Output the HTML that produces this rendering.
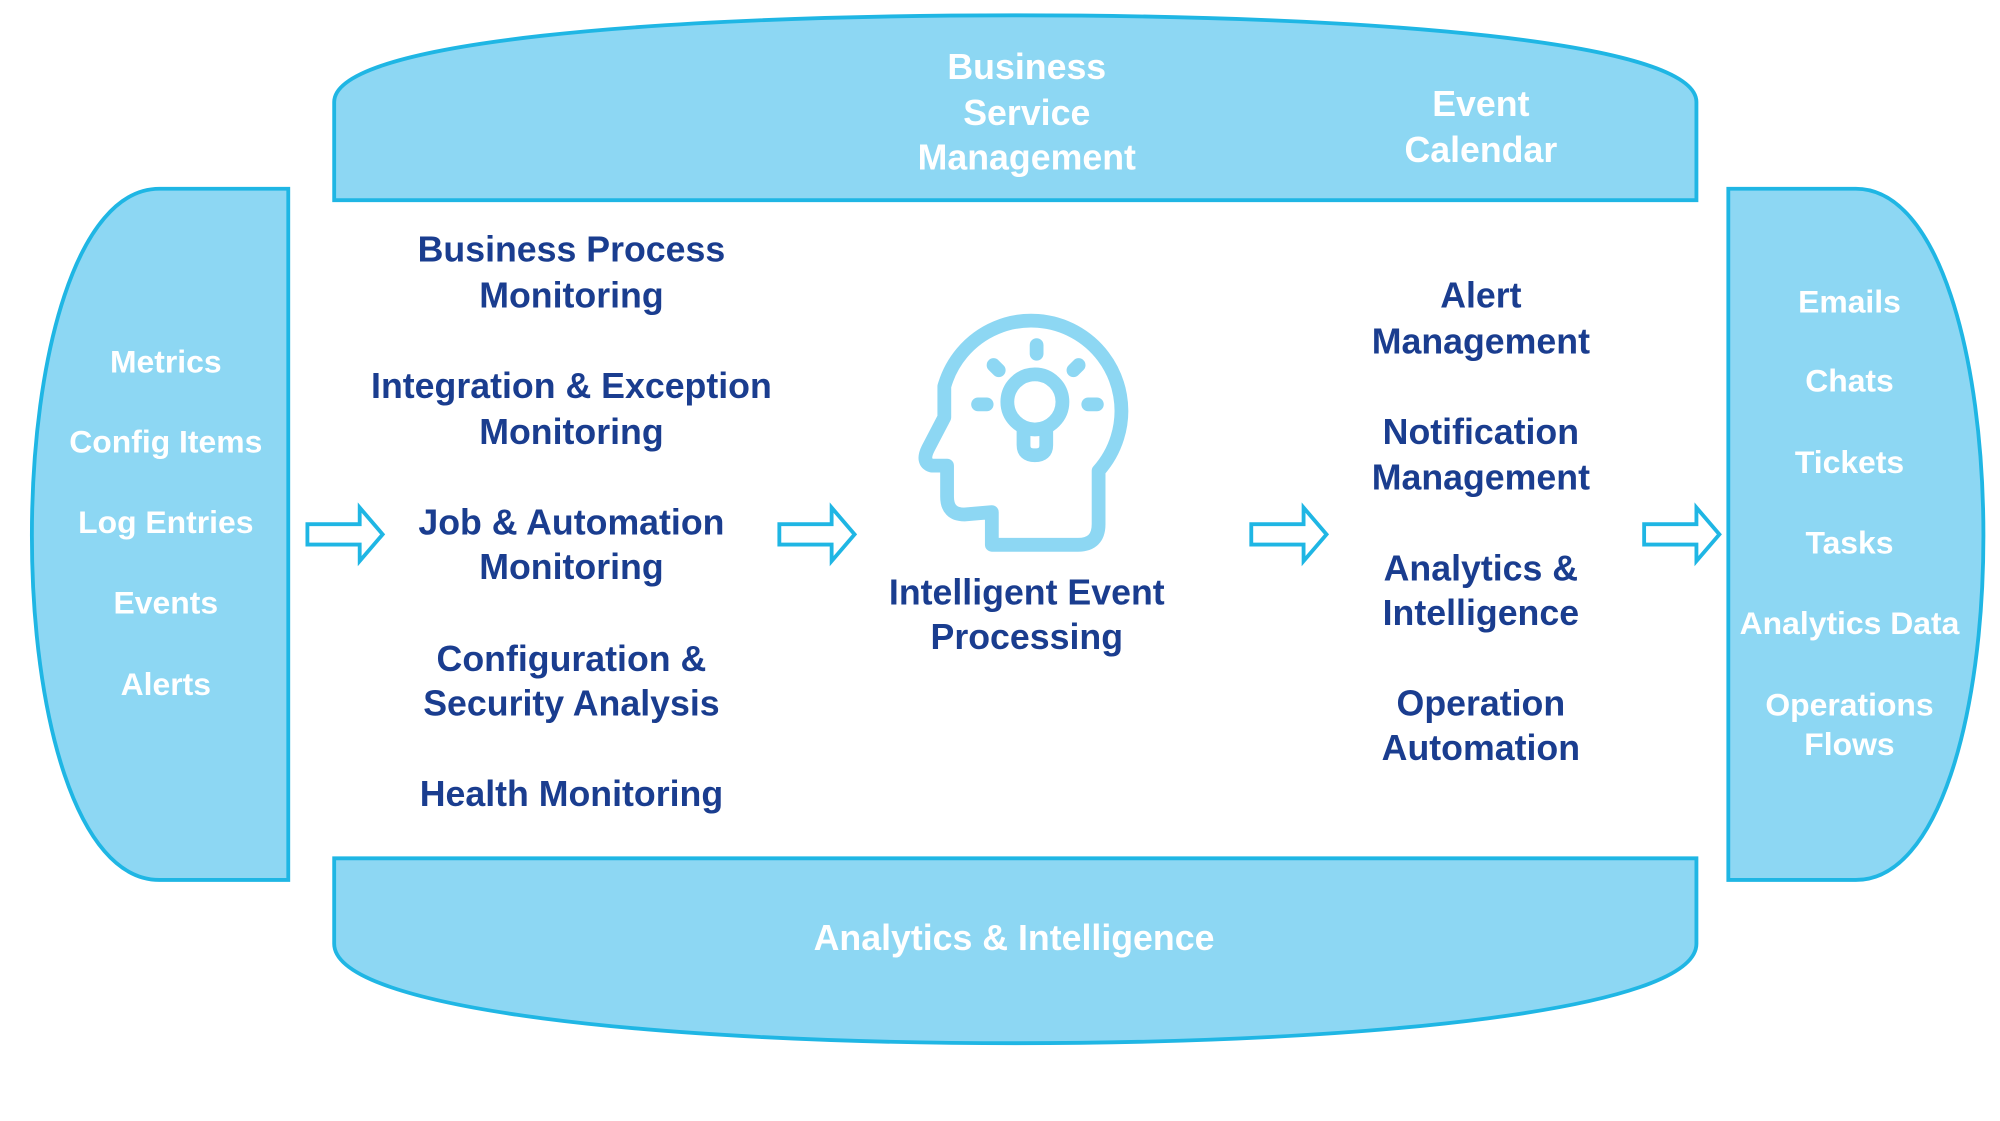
<!DOCTYPE html>
<html><head><meta charset="utf-8"><style>
html,body{margin:0;padding:0;background:#fff;}
svg{display:block;}
text{font-family:"Liberation Sans",sans-serif;font-weight:bold;text-anchor:middle;}
.w{fill:#fff;font-size:25px;}
.b{fill:#1a3d8f;font-size:28px;}
.t{fill:#fff;font-size:28px;}
</style></head><body>
<svg width="2000" height="1121" viewBox="0 0 1568 879" preserveAspectRatio="none" xmlns="http://www.w3.org/2000/svg">
<g fill="#8dd7f3" stroke="#1fb6e4" stroke-width="3">
<path d="M262,157 V80 C262,32 520,12 796,12 C1072,12 1330,32 1330,80 V157 Z"/>
<path d="M262,673 H1330 V740 C1330,792 1072,818 796,818 C520,818 262,792 262,740 Z"/>
<path d="M226,148 V690 H125 C60,690 25,560 25,420 C25,280 60,148 125,148 Z"/>
<path d="M1355,148 V690 H1455 C1520,690 1555,560 1555,420 C1555,280 1520,148 1455,148 Z"/>
</g>
<g fill="#fff" stroke="#1fb6e4" stroke-width="3" stroke-linejoin="miter">
<path d="M241,411 H282 V398 L300,419 L282,440 V427 H241 Z"/>
<path d="M611,411 H652 V398 L670,419 L652,440 V427 H611 Z"/>
<path d="M981,411 H1022 V398 L1040,419 L1022,440 V427 H981 Z"/>
<path d="M1289,411 H1330 V398 L1348,419 L1330,440 V427 H1289 Z"/>
</g>
<g transform="translate(702,222) scale(0.27)" fill="none" stroke="#8dd7f3" stroke-width="40" stroke-linecap="round" stroke-linejoin="round">
<path d="M590,545 V700 Q590,760 530,760 H280 V665 L200,672 Q150,672 150,620 V530 H105 Q75,520 95,480 L142,390 V300 A262,262 0 1 1 590,545 Z"/>
<circle cx="405" cy="345" r="80"/>
<path d="M372,420 V470 Q372,500 405,500 Q438,500 438,470 V420"/>
<path d="M410,180 V205 M285,238 L300,253 M532,238 L517,253 M240,352 H265 M560,352 H585"/>
</g>
<g class="w">
<text x="130" y="292">Metrics</text>
<text x="130" y="355">Config Items</text>
<text x="130" y="418">Log Entries</text>
<text x="130" y="481">Events</text>
<text x="130" y="545">Alerts</text>
<text x="1450" y="245">Emails</text>
<text x="1450" y="307">Chats</text>
<text x="1450" y="371">Tickets</text>
<text x="1450" y="434">Tasks</text>
<text x="1450" y="497">Analytics Data</text>
<text x="1450" y="561">Operations</text>
<text x="1450" y="592">Flows</text>
</g>
<g class="t">
<text x="805" y="62">Business</text>
<text x="805" y="98">Service</text>
<text x="805" y="133">Management</text>
<text x="1161" y="91">Event</text>
<text x="1161" y="127">Calendar</text>
<text x="795" y="745">Analytics &amp; Intelligence</text>
</g>
<g class="b">
<text x="448" y="205">Business Process</text>
<text x="448" y="241">Monitoring</text>
<text x="448" y="312">Integration &amp; Exception</text>
<text x="448" y="348">Monitoring</text>
<text x="448" y="419">Job &amp; Automation</text>
<text x="448" y="454">Monitoring</text>
<text x="448" y="526">Configuration &amp;</text>
<text x="448" y="561">Security Analysis</text>
<text x="448" y="632">Health Monitoring</text>
<text x="805" y="474">Intelligent Event</text>
<text x="805" y="509">Processing</text>
<text x="1161" y="241">Alert</text>
<text x="1161" y="277">Management</text>
<text x="1161" y="348">Notification</text>
<text x="1161" y="384">Management</text>
<text x="1161" y="455">Analytics &amp;</text>
<text x="1161" y="490">Intelligence</text>
<text x="1161" y="561">Operation</text>
<text x="1161" y="596">Automation</text>
</g>
</svg>
</body></html>
